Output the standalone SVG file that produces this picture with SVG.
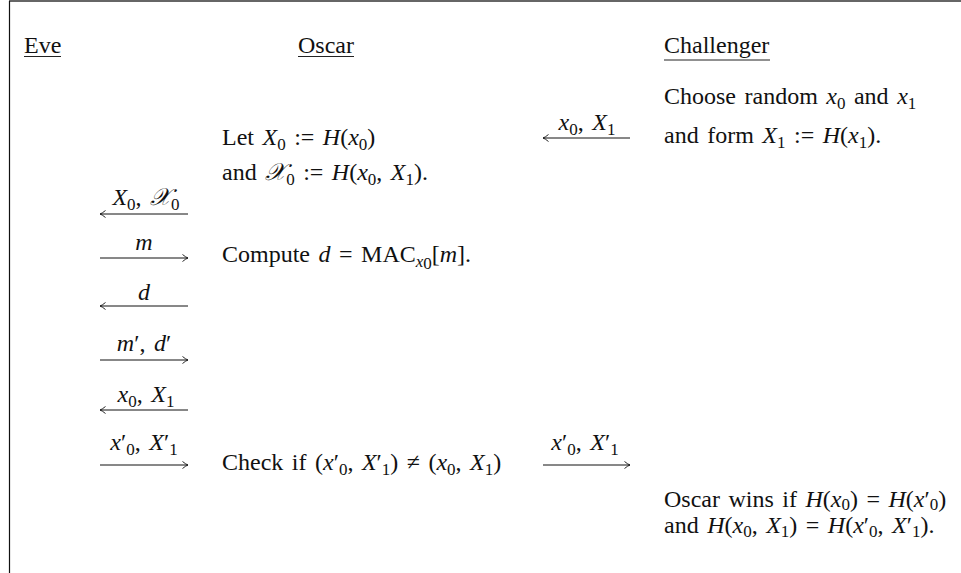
<svg xmlns="http://www.w3.org/2000/svg" width="961" height="573" viewBox="0 0 961 573">
<defs>
<style>
text{font-family:"Liberation Serif","Times New Roman",serif;font-size:24px;fill:#111;word-spacing:2.5px}
.i{font-style:italic}
.s{font-size:17px}
.ul{stroke:#222;stroke-width:1}
.ar{stroke:#111;stroke-width:1;fill:none}
</style>
<marker id="head" viewBox="-8 -5 10 10" markerWidth="10" markerHeight="10" refX="0" refY="0" orient="auto-start-reverse" markerUnits="userSpaceOnUse">
<path d="M -5.5 -3.5 Q -2 -0.6 0 0 Q -2 0.6 -5.5 3.5" stroke="#111" stroke-width="0.9" fill="none"/>
</marker>
</defs>
<rect width="961" height="573" fill="#fff"/>
<g id="frame">
<line x1="9" y1="1" x2="961" y2="1" stroke="#333" stroke-width="1.5"/>
<line x1="9.5" y1="1" x2="9.5" y2="573" stroke="#111" stroke-width="1.2"/>
</g>
<g id="eve">
<text x="24" y="53">Eve</text>
<line class="ul" x1="24" y1="56.5" x2="61" y2="56.5"/>
</g>
<g id="oscar">
<text x="298" y="53">Oscar</text>
<line class="ul" x1="298" y1="56.5" x2="354" y2="56.5"/>
<text x="222" y="145">Let <tspan class="i">X</tspan><tspan class="s" dy="5">0</tspan><tspan dy="-5"> := </tspan><tspan class="i">H</tspan>(<tspan class="i">x</tspan><tspan class="s" dy="5">0</tspan><tspan dy="-5">)</tspan></text>
<text x="222" y="180">and <tspan class="i">𝒳</tspan><tspan class="s" dy="5">0</tspan><tspan dy="-5"> := </tspan><tspan class="i">H</tspan>(<tspan class="i">x</tspan><tspan class="s" dy="5">0</tspan><tspan dy="-5">, </tspan><tspan class="i">X</tspan><tspan class="s" dy="5">1</tspan><tspan dy="-5">).</tspan></text>
<text x="222" y="262">Compute <tspan class="i">d</tspan> = MAC<tspan class="s i" dy="5">x</tspan><tspan class="s" font-size="12" dy="2">0</tspan><tspan dy="-7">[</tspan><tspan class="i">m</tspan>].</text>
<text x="222" y="470">Check if (<tspan class="i">x</tspan>′<tspan class="s" dy="5">0</tspan><tspan dy="-5">, </tspan><tspan class="i">X</tspan>′<tspan class="s" dy="5">1</tspan><tspan dy="-5">) ≠ (</tspan><tspan class="i">x</tspan><tspan class="s" dy="5">0</tspan><tspan dy="-5">, </tspan><tspan class="i">X</tspan><tspan class="s" dy="5">1</tspan><tspan dy="-5">)</tspan></text>
</g>
<g id="challenger">
<text x="664" y="53">Challenger</text>
<line class="ul" x1="664" y1="60" x2="770" y2="60"/>
<text x="664" y="104">Choose random <tspan class="i">x</tspan><tspan class="s" dy="5">0</tspan><tspan dy="-5"> and </tspan><tspan class="i">x</tspan><tspan class="s" dy="5">1</tspan></text>
<text x="664" y="143">and form <tspan class="i">X</tspan><tspan class="s" dy="5">1</tspan><tspan dy="-5"> := </tspan><tspan class="i">H</tspan>(<tspan class="i">x</tspan><tspan class="s" dy="5">1</tspan><tspan dy="-5">).</tspan></text>
<text x="664" y="507">Oscar wins if <tspan class="i">H</tspan>(<tspan class="i">x</tspan><tspan class="s" dy="3">0</tspan><tspan dy="-3">) = </tspan><tspan class="i">H</tspan>(<tspan class="i">x</tspan>′<tspan class="s" dy="3">0</tspan><tspan dy="-3">)</tspan></text>
<text x="664" y="533">and <tspan class="i">H</tspan>(<tspan class="i">x</tspan><tspan class="s" dy="4">0</tspan><tspan dy="-4">, </tspan><tspan class="i">X</tspan><tspan class="s" dy="4">1</tspan><tspan dy="-4">) = </tspan><tspan class="i">H</tspan>(<tspan class="i">x</tspan>′<tspan class="s" dy="4">0</tspan><tspan dy="-4">, </tspan><tspan class="i">X</tspan>′<tspan class="s" dy="4">1</tspan><tspan dy="-4">).</tspan></text>
</g>
<g id="connectors">
<line class="ar" x1="630" y1="138" x2="543" y2="138" marker-end="url(#head)"/>
<text x="587" y="130" text-anchor="middle"><tspan class="i">x</tspan><tspan class="s" dy="5">0</tspan><tspan dy="-5">, </tspan><tspan class="i">X</tspan><tspan class="s" dy="5">1</tspan></text>
<line class="ar" x1="188" y1="214" x2="100" y2="214" marker-end="url(#head)"/>
<text x="146" y="205" text-anchor="middle"><tspan class="i">X</tspan><tspan class="s" dy="5">0</tspan><tspan dy="-5">, </tspan><tspan class="i">𝒳</tspan><tspan class="s" dy="5">0</tspan></text>
<line class="ar" x1="100" y1="258" x2="188" y2="258" marker-end="url(#head)"/>
<text x="144" y="250" text-anchor="middle" class="i">m</text>
<line class="ar" x1="188" y1="306" x2="100" y2="306" marker-end="url(#head)"/>
<text x="144" y="300" text-anchor="middle" class="i">d</text>
<line class="ar" x1="100" y1="360" x2="188" y2="360" marker-end="url(#head)"/>
<text x="144" y="351" text-anchor="middle"><tspan class="i">m</tspan>′, <tspan class="i">d</tspan>′</text>
<line class="ar" x1="188" y1="410" x2="100" y2="410" marker-end="url(#head)"/>
<text x="146" y="402" text-anchor="middle"><tspan class="i">x</tspan><tspan class="s" dy="5">0</tspan><tspan dy="-5">, </tspan><tspan class="i">X</tspan><tspan class="s" dy="5">1</tspan></text>
<line class="ar" x1="100" y1="465" x2="188" y2="465" marker-end="url(#head)"/>
<text x="144" y="450" text-anchor="middle"><tspan class="i">x</tspan>′<tspan class="s" dy="5">0</tspan><tspan dy="-5">, </tspan><tspan class="i">X</tspan>′<tspan class="s" dy="5">1</tspan></text>
<line class="ar" x1="543" y1="465" x2="630" y2="465" marker-end="url(#head)"/>
<text x="585" y="450" text-anchor="middle"><tspan class="i">x</tspan>′<tspan class="s" dy="5">0</tspan><tspan dy="-5">, </tspan><tspan class="i">X</tspan>′<tspan class="s" dy="5">1</tspan></text>
</g>
</svg>
